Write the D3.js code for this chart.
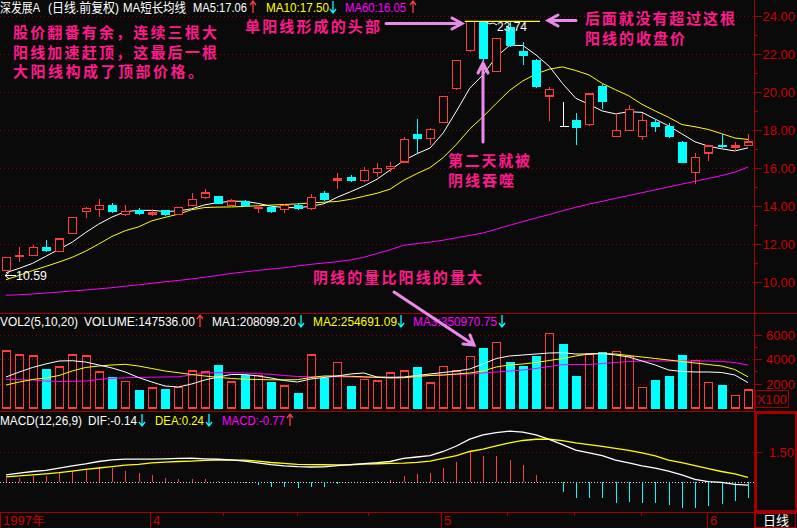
<!DOCTYPE html>
<html><head><meta charset="utf-8">
<script src="https://cdn.jsdelivr.net/npm/d3@7"></script>
<style>
html,body{margin:0;padding:0;background:#0a0a0a;}
svg{display:block;}
</style></head>
<body>
<svg id="c" width="797" height="528"></svg>
<script>
// ---------------- DATA ----------------
const openP  = [10.60,11.35,11.38,11.84,11.62,12.54,13.72,13.82,14.05,13.54,13.77,13.58,13.77,13.56,14.02,14.46,14.53,14.04,14.26,13.88,13.96,13.81,14.05,13.88,14.68,15.36,15.53,15.33,15.75,15.96,16.32,17.79,17.56,18.41,20.17,22.17,23.70,21.09,23.40,22.16,21.68,19.79,18.19,18.53,18.28,20.32,17.67,17.96,17.67,18.42,18.21,17.38,15.77,16.79,17.21,17.12,17.17];
const highP  = [11.32,11.84,11.93,12.21,12.32,13.42,13.96,14.37,14.16,14.05,13.89,13.82,13.80,13.95,14.67,14.88,14.55,14.35,14.30,14.04,14.00,14.10,14.16,14.62,14.79,15.72,15.61,16.05,16.26,16.30,17.62,18.58,18.12,19.80,21.70,23.72,23.74,22.85,23.75,22.62,21.75,20.28,19.46,18.91,19.92,20.40,18.88,19.30,18.88,18.56,18.35,17.42,16.77,17.20,17.79,17.38,17.79];
const lowP   = [10.59,11.07,11.35,11.60,11.57,12.52,13.38,13.44,13.62,13.49,13.55,13.49,13.49,13.52,14.00,14.39,14.08,14.02,14.00,13.65,13.65,13.65,13.80,13.81,14.26,14.91,15.27,15.27,15.54,15.80,16.30,16.81,17.21,18.38,20.10,22.09,21.62,21.05,22.35,21.44,20.20,18.49,18.19,17.21,18.22,19.09,17.65,17.93,17.49,17.91,17.60,16.28,15.14,16.38,17.05,16.91,17.15];
const closeP = [11.30,11.40,11.83,11.63,12.26,13.40,13.86,14.03,13.70,13.72,13.58,13.67,13.54,13.93,14.35,14.68,14.11,14.26,14.02,13.92,13.70,14.03,13.84,14.46,14.32,15.42,15.32,15.88,15.98,16.09,17.51,17.54,18.04,19.77,21.67,23.72,21.74,22.83,22.44,21.91,20.26,20.14,18.19,18.12,19.89,19.49,17.98,19.09,18.51,18.17,17.63,16.28,16.56,17.16,17.09,17.16,17.37];
const ma5    = [10.49,10.72,10.98,11.35,11.72,12.10,12.60,13.05,13.42,13.70,13.77,13.77,13.71,13.74,13.85,14.06,14.18,14.25,14.25,14.14,13.99,13.92,13.91,13.98,14.12,14.46,14.75,15.05,15.41,15.90,16.38,16.75,17.05,17.85,19.00,20.20,20.90,21.85,22.45,22.45,21.95,21.35,20.45,19.67,19.35,19.00,18.85,18.96,18.93,18.57,18.22,17.80,17.38,17.15,17.01,16.90,17.06];
const ma10   = [10.12,10.35,10.60,10.82,11.05,11.30,11.62,12.00,12.40,12.70,12.90,13.22,13.40,13.57,13.80,13.92,13.94,13.95,13.98,14.01,14.05,14.08,14.11,14.16,14.20,14.24,14.35,14.51,14.67,14.89,15.35,15.70,16.02,16.55,17.25,18.05,18.70,19.40,20.08,20.58,20.95,21.20,21.32,21.13,20.90,20.45,20.12,19.80,19.35,19.00,18.67,18.29,18.17,18.03,17.81,17.58,17.50];
const ma60   = [9.30,9.33,9.37,9.42,9.47,9.53,9.58,9.64,9.70,9.78,9.85,9.93,10.01,10.08,10.16,10.25,10.35,10.45,10.53,10.61,10.68,10.75,10.84,10.93,11.00,11.07,11.16,11.30,11.50,11.70,11.93,12.02,12.10,12.20,12.33,12.45,12.58,12.78,12.98,13.18,13.37,13.55,13.75,13.93,14.10,14.25,14.40,14.55,14.70,14.85,15.00,15.15,15.30,15.45,15.60,15.78,16.05];
// volume in units of 100 shares
const volume = [4672,4344,4262,3224,3360,4344,4262,2950,2514,2186,1475,1639,1585,1694,3033,2950,3525,2131,2705,2678,2131,1803,1230,4344,2459,3716,1803,2350,2213,2869,3033,3360,2049,3415,3033,4235,4918,5383,3770,3443,4290,6120,5246,2623,4426,4590,4645,4200,1694,2295,2623,4344,3880,2104,1885,1038,1475.36];
const volMa1 = [2541,2951,3320,3607,3852,3877,3770,3525,3279,2951,2500,2131,1803,1721,1967,2295,2541,2746,2746,2623,2459,2254,2131,2377,2500,2623,2787,2869,2541,2516,2541,2664,2787,2910,3033,3197,3607,4057,4262,4344,4426,4508,4533,4426,4426,4467,4344,4180,3852,3525,3115,2992,2951,2951,2910,2705,2080.992];
const volMa2 = [1885,2131,2336,2459,2664,3033,3320,3443,3525,3582,3443,3238,3033,2893,2746,2623,2516,2418,2361,2336,2311,2311,2320,2500,2623,2623,2598,2557,2516,2459,2484,2582,2664,2705,2787,2869,3033,3361,3525,3607,3730,3893,4057,4262,4426,4467,4426,4303,4180,4057,3934,3811,3689,3566,3443,3156,2546.9109];
const volMa3 = [2352,2320,2295,2213,2172,2189,2213,2336,2434,2475,2508,2525,2541,2557,2705,2869,2893,2893,2869,2811,2762,2664,2582,2566,2566,2557,2541,2516,2516,2508,2484,2582,2680,2705,2746,2787,2869,2951,3033,3115,3238,3402,3549,3566,3566,3648,3730,3811,3852,3852,3852,3852,3852,3852,3811,3730,3509.7075];
const dif  = [0.36,0.45,0.53,0.58,0.70,0.80,0.90,1.02,1.10,1.14,1.14,1.14,1.15,1.17,1.18,1.15,1.13,1.10,1.04,0.95,0.87,0.81,0.77,0.75,0.76,0.82,0.87,0.92,0.96,1.02,1.17,1.24,1.31,1.51,1.78,2.12,2.32,2.44,2.51,2.46,2.32,2.10,1.85,1.58,1.44,1.31,1.09,0.95,0.80,0.69,0.55,0.36,0.14,0.03,0.00,-0.10,-0.14];
const dea  = [0.27,0.31,0.36,0.41,0.47,0.55,0.63,0.70,0.77,0.84,0.88,0.95,0.99,1.02,1.04,1.07,1.09,1.09,1.09,1.04,0.97,0.93,0.88,0.87,0.86,0.85,0.86,0.89,0.91,0.93,0.94,0.98,1.04,1.17,1.31,1.51,1.63,1.78,1.93,2.05,2.11,2.11,2.04,1.93,1.85,1.76,1.66,1.56,1.44,1.30,1.09,0.97,0.82,0.67,0.53,0.41,0.24];
const macd = [0.20,0.23,0.33,0.33,0.44,0.55,0.65,0.73,0.69,0.55,0.46,0.36,0.23,0.16,0.16,0.16,0.06,0.01,-0.05,-0.13,-0.22,-0.22,-0.26,-0.22,-0.22,-0.07,0.01,0.03,0.06,0.10,0.33,0.41,0.46,0.72,1.01,1.47,1.29,1.29,1.09,0.85,0.36,0.03,-0.46,-0.78,-0.78,-0.78,-1.00,-0.95,-1.00,-1.00,-1.11,-1.24,-1.24,-1.15,-1.05,-0.90,-0.77];
const priceTicks = [10,12,14,16,18,20,22,24];
const volTicks = [2000,4000,6000];
const macdTicks = [1.5];
// date axis ticks (candle index positions) and labels
const dateTicks = [10.87,16.4,21.95,27.3,32.83,37.8,42.85,47.9,52.9];
const dateMajor = [{i:-0.45,label:"1997年"},{i:10.87,label:"4"},{i:32.83,label:"5"},{i:52.9,label:"6"}];

// ---------------- SETUP ----------------
const svg = d3.select("#c");
const N = closeP.length;
const BG = "#0a0a0a", RED = "#ff3c3c", CYAN = "#00ffff", DARK = "#a00000", GRID = "#8a0000";
const PINK = "#ff1a8c", ARROW = "#ec8aec";
const x = d3.scaleLinear().domain([0, N-1]).range([6, 748]);
const yP = d3.scaleLinear().domain([10, 24]).range([282, 16]);
const yV = d3.scaleLinear().domain([0, 6000]).range([408, 334.8]);
const yM = d3.scaleLinear().domain([0, 1.5]).range([482.3, 451.7]);
const half = 4;
const dir = d3.range(N).map(i => closeP[i] > openP[i] ? 1 : closeP[i] < openP[i] ? -1 : 0);
const volDir = d3.range(N).map(i => dir[i] !== 0 ? dir[i] : (i > 0 && closeP[i] >= closeP[i-1] ? 1 : -1));

svg.append("rect").attr("width",797).attr("height",528).attr("fill",BG);

// ---------- grid ----------
const g = svg.append("g").attr("shape-rendering","crispEdges");
const hgrid = (yy, col, dash) => g.append("line").attr("x1",0).attr("x2",754).attr("y1",Math.round(yy)+0.5).attr("y2",Math.round(yy)+0.5)
  .attr("stroke",col).attr("stroke-dasharray",dash);
priceTicks.forEach(t => hgrid(yP(t), GRID, "1,3"));
volTicks.forEach(t => hgrid(yV(t), GRID, "1,3"));
macdTicks.forEach(t => hgrid(yM(t), GRID, "1,3"));
hgrid(yM(0), "#e0e0e0", "1,2");

// ---------- frame ----------
const f = svg.append("g").attr("shape-rendering","crispEdges").attr("stroke",DARK).attr("fill","none");
f.append("line").attr("x1",754.5).attr("x2",754.5).attr("y1",0).attr("y2",528);
[313.5, 411.5, 512.5].forEach(yy => f.append("line").attr("x1",0).attr("x2",797).attr("y1",yy).attr("y2",yy));
f.append("rect").attr("x",756).attr("y",413).attr("width",39.5).attr("height",98).attr("stroke-width",2);
f.append("rect").attr("x",755.5).attr("y",513.5).attr("width",40).attr("height",14);
f.append("rect").attr("x",755.5).attr("y",390.5).attr("width",33).attr("height",17);
f.append("line").attr("x1",0.5).attr("x2",0.5).attr("y1",512).attr("y2",528);

// right axis ticks + labels
const ax = svg.append("g").attr("font-family","Liberation Sans, Arial, sans-serif").attr("font-size",13).attr("fill","#cc0000");
const axL = svg.append("g").attr("shape-rendering","crispEdges").attr("stroke",DARK);
d3.range(10, 24.01, 1).forEach(t => axL.append("line").attr("x1",754).attr("x2", t%2===0 ? 762 : 758)
  .attr("y1",Math.round(yP(t))+0.5).attr("y2",Math.round(yP(t))+0.5));
priceTicks.forEach(t => ax.append("text").attr("x",795).attr("y",yP(t)+5).attr("text-anchor","end").text(t.toFixed(2)));
d3.range(1000, 6001, 1000).forEach(t => axL.append("line").attr("x1",754).attr("x2", t%2000===0 ? 762 : 758)
  .attr("y1",Math.round(yV(t))+0.5).attr("y2",Math.round(yV(t))+0.5));
volTicks.forEach(t => ax.append("text").attr("x",795).attr("y",yV(t)+5).attr("text-anchor","end").text(t));
ax.append("text").attr("x",757).attr("y",404).attr("textLength",30).attr("lengthAdjust","spacingAndGlyphs").text("X100");
macdTicks.forEach(t => {
  axL.append("line").attr("x1",754).attr("x2",762).attr("y1",Math.round(yM(t))+0.5).attr("y2",Math.round(yM(t))+0.5);
  ax.append("text").attr("x",794).attr("y",yM(t)+5).attr("text-anchor","end").text(t.toFixed(2));
});

// date axis
dateTicks.forEach(t => {
  const isMajor = dateMajor.some(d => d.i === t);
  axL.append("line").attr("x1",Math.round(x(t))+0.5).attr("x2",Math.round(x(t))+0.5).attr("y1",512).attr("y2", isMajor ? 528 : 516);
});
dateMajor.forEach(d => ax.append("text").attr("x",x(d.i)+3).attr("y",525).text(d.label));
svg.append("text").attr("x",776).attr("y",525).attr("text-anchor","middle").attr("fill","#ffffff")
  .attr("font-family","Noto Sans CJK SC").attr("font-size",13).text("日线");

// ---------- MA lines (price) ----------
const lineGen = (arr, ys) => d3.line().x((d,i) => x(i)).y(d => ys(d))(arr);
const P = svg.append("g").attr("fill","none").attr("stroke-width",1);
P.append("path").attr("d",lineGen(ma60,yP)).attr("stroke","#ff00ff");
P.append("path").attr("d",lineGen(ma10,yP)).attr("stroke","#ffff00");
P.append("path").attr("d",lineGen(ma5,yP)).attr("stroke","#ffffff");

// ---------- candles ----------
const C = svg.append("g").attr("shape-rendering","crispEdges");
d3.range(N).forEach(i => {
  const cx = Math.round(x(i)) + 0.5;
  const top = yP(Math.max(openP[i], closeP[i])), bot = yP(Math.min(openP[i], closeP[i]));
  if (dir[i] === 1) {
    C.append("line").attr("x1",cx).attr("x2",cx).attr("y1",yP(highP[i])).attr("y2",top).attr("stroke",RED);
    C.append("line").attr("x1",cx).attr("x2",cx).attr("y1",bot).attr("y2",yP(lowP[i])).attr("stroke",RED);
    C.append("rect").attr("x",cx-half).attr("y",top).attr("width",half*2).attr("height",Math.max(1,bot-top))
      .attr("fill",BG).attr("stroke",RED).attr("stroke-width",1.3);
  } else if (dir[i] === -1) {
    C.append("line").attr("x1",cx).attr("x2",cx).attr("y1",yP(highP[i])).attr("y2",yP(lowP[i])).attr("stroke",CYAN);
    C.append("rect").attr("x",cx-half-0.5).attr("y",top).attr("width",half*2+1).attr("height",Math.max(1.5,bot-top)).attr("fill",CYAN);
  } else {
    C.append("line").attr("x1",cx).attr("x2",cx).attr("y1",yP(highP[i])).attr("y2",yP(lowP[i])).attr("stroke","#ffffff");
    C.append("line").attr("x1",cx-half).attr("x2",cx+half+1).attr("y1",top).attr("y2",top).attr("stroke","#ffffff").attr("stroke-width",1.5);
  }
});

// ---------- volume ----------
const V = svg.append("g").attr("shape-rendering","crispEdges");
d3.range(N).forEach(i => {
  const cx = Math.round(x(i)) + 0.5;
  if (volDir[i] === 1) {
    V.append("rect").attr("x",cx-half).attr("y",yV(volume[i])).attr("width",half*2).attr("height",yV(0)-yV(volume[i]))
      .attr("fill","none").attr("stroke",RED).attr("stroke-width",1.3);
  } else {
    V.append("rect").attr("x",cx-half-0.5).attr("y",yV(volume[i])).attr("width",half*2+1).attr("height",yV(0)-yV(volume[i])+1).attr("fill",CYAN);
  }
});
const VL = svg.append("g").attr("fill","none");
VL.append("path").attr("d",lineGen(volMa3,yV)).attr("stroke","#ff00ff");
VL.append("path").attr("d",lineGen(volMa2,yV)).attr("stroke","#ffff00");
VL.append("path").attr("d",lineGen(volMa1,yV)).attr("stroke","#ffffff");

// ---------- MACD ----------
const M = svg.append("g").attr("shape-rendering","crispEdges");
d3.range(N).forEach(i => {
  const cx = Math.round(x(i)) + 0.5;
  M.append("line").attr("x1",cx).attr("x2",cx).attr("y1",yM(0)).attr("y2",yM(macd[i]))
    .attr("stroke", macd[i] >= 0 ? RED : CYAN).attr("stroke-width",1.2);
});
const ML = svg.append("g").attr("fill","none").attr("stroke-width",1.3);
ML.append("path").attr("d",lineGen(dea,yM)).attr("stroke","#ffff00");
ML.append("path").attr("d",lineGen(dif,yM)).attr("stroke","#ffffff");

// ---------- header texts ----------
const arrowMark = (xx, yTop, isUp, col) => {
  const yb = yTop + 12, h = 3;
  const d = isUp ? `M${xx},${yb} V${yTop} M${xx-h},${yTop+4} L${xx},${yTop} L${xx+h},${yTop+4}`
                 : `M${xx},${yTop} V${yb} M${xx-h},${yb-4} L${xx},${yb} L${xx+h},${yb-4}`;
  svg.append("path").attr("d",d).attr("stroke",col).attr("stroke-width",1.3).attr("fill","none");
};
const hdr = (yy, parts) => {
  parts.forEach(p => {
    if (p.arrow) { arrowMark(p.x, yy-11, p.arrow === "up", p.c); return; }
    svg.append("text").attr("x",p.x).attr("y",yy).attr("fill",p.c)
      .attr("font-family","Liberation Sans, Noto Sans CJK SC, sans-serif").attr("font-size",13)
      .attr("textLength",p.w).attr("lengthAdjust","spacingAndGlyphs").text(p.t);
  });
};
hdr(12, [{x:0,w:40,t:"深发展A",c:"#ffffff"},{x:48,w:71,t:"(日线.前复权)",c:"#ffffff"},{x:123,w:63,t:"MA短长均线",c:"#ffffff"},
         {x:193,w:54,t:"MA5:"+ma5[N-1].toFixed(2),c:"#ffffff"},{x:253,arrow:"up",c:RED},
         {x:266,w:63,t:"MA10:"+ma10[N-1].toFixed(2),c:"#ffff00"},{x:333,arrow:"dn",c:CYAN},
         {x:345,w:61,t:"MA60:"+ma60[N-1].toFixed(2),c:"#ff00ff"},{x:413,arrow:"up",c:RED}]);
hdr(326, [{x:0,w:78,t:"VOL2(5,10,20)",c:"#ffffff"},{x:84,w:111,t:"VOLUME:"+(volume[N-1]*100).toFixed(2),c:"#ffffff"},{x:200,arrow:"up",c:RED},
          {x:212,w:84,t:"MA1:"+(volMa1[N-1]*100).toFixed(2),c:"#ffffff"},{x:301,arrow:"dn",c:CYAN},
          {x:313,w:84,t:"MA2:"+(volMa2[N-1]*100).toFixed(2),c:"#ffff00"},{x:401,arrow:"dn",c:CYAN},
          {x:413,w:84,t:"MA3:"+(volMa3[N-1]*100).toFixed(2),c:"#ff00ff"},{x:502,arrow:"dn",c:CYAN}]);
hdr(425, [{x:0,w:82,t:"MACD(12,26,9)",c:"#ffffff"},{x:88,w:49,t:"DIF:"+dif[N-1].toFixed(2),c:"#ffffff"},{x:142,arrow:"dn",c:CYAN},
          {x:155,w:49,t:"DEA:"+dea[N-1].toFixed(2),c:"#ffff00"},{x:209,arrow:"dn",c:CYAN},
          {x:222,w:63,t:"MACD:"+macd[N-1].toFixed(2),c:"#ff00ff"},{x:290,arrow:"up",c:RED}]);

// high / low labels
const hiIdx = d3.maxIndex(highP.slice(0,37)), loIdx = d3.minIndex(lowP);
svg.append("path").attr("d",`M${x(hiIdx)+3},${yP(highP[hiIdx])+1} l4,2 l3,-1 l4,2`).attr("stroke","#ffffff").attr("fill","none");
svg.append("text").attr("x",497).attr("y",31).attr("fill","#ffffff").attr("font-family","Liberation Sans").attr("font-size",13)
  .attr("textLength",30).attr("lengthAdjust","spacingAndGlyphs").text(highP[hiIdx].toFixed(2));
svg.append("path").attr("d",`M16,275.5 H5 M9,272.5 L5,275.5 L9,278.5`).attr("stroke","#ffffff").attr("fill","none");
svg.append("text").attr("x",16).attr("y",280).attr("fill","#ffffff").attr("font-family","Liberation Sans").attr("font-size",13)
  .attr("textLength",31).attr("lengthAdjust","spacingAndGlyphs").text(lowP[loIdx].toFixed(2));

// close-price line of the top candle
svg.append("line").attr("x1",x(35)-5).attr("x2",540).attr("y1",yP(closeP[35])).attr("y2",yP(closeP[35])).attr("stroke","#ffff00").attr("stroke-width",1.2);

// ---------- annotations ----------
const A = svg.append("g").attr("stroke",ARROW).attr("stroke-width",3).attr("fill","none").attr("stroke-linecap","round");
A.append("path").attr("d","M386,23.5 H462 M452,18 L462,23.5 L452,29");
A.append("path").attr("d","M576,20.5 H548 M558,15 L548,20.5 L558,26");
A.append("path").attr("d","M483,142 V63 M478,73 L483,63 L488,73");
A.append("path").attr("d","M394,292 L474,345 M463,344 L474,345 L470,335");

const ann = (xx, yy, s, w) => svg.append("text").attr("x",xx).attr("y",yy).attr("fill",PINK)
  .attr("font-family","Noto Sans CJK SC").attr("font-weight","bold").attr("font-size",15)
  .attr("textLength",w).attr("lengthAdjust","spacing").text(s);
ann(13,38,"股价翻番有余，连续三根大",204);
ann(13,58,"阳线加速赶顶，这最后一根",204);
ann(13,77,"大阳线构成了顶部价格。",190);
ann(245,32,"单阳线形成的头部",135);
ann(585,24,"后面就没有超过这根",150);
ann(585,44,"阳线的收盘价",100);
ann(448,166,"第二天就被",82);
ann(448,186,"阴线吞噬",66);
ann(313,283,"阴线的量比阳线的量大",169);
</script>
</body></html>
